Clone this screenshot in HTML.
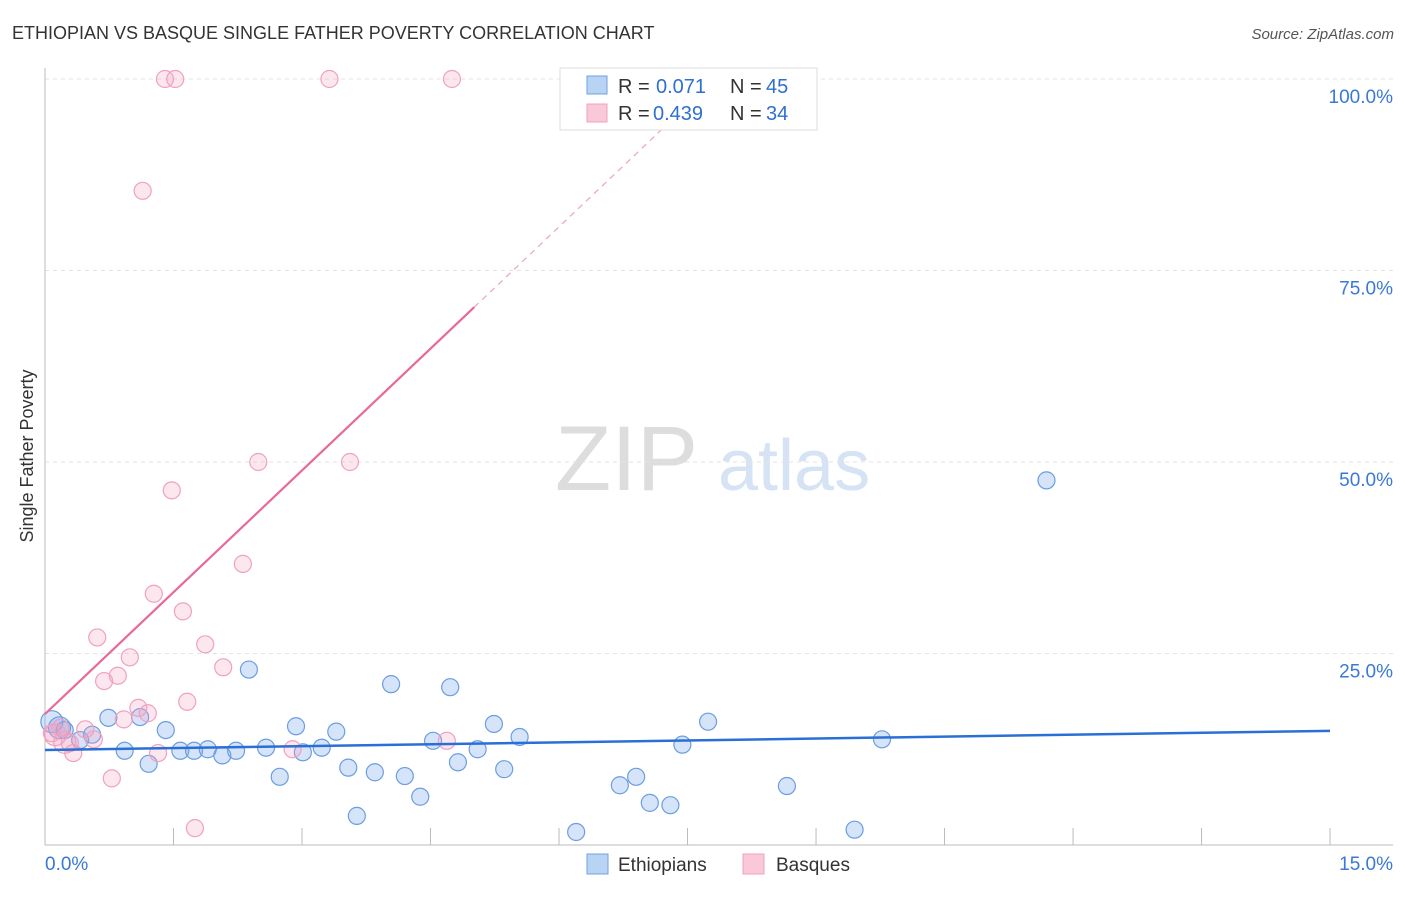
<!DOCTYPE html>
<html><head><meta charset="utf-8"><style>
body{margin:0;background:#fff;font-family:"Liberation Sans",sans-serif;}
svg text{font-family:"Liberation Sans",sans-serif;}
</style></head><body>
<svg id="c" width="1406" height="892" xmlns="http://www.w3.org/2000/svg">
<text x="12" y="39" font-size="18" fill="#333">ETHIOPIAN VS BASQUE SINGLE FATHER POVERTY CORRELATION CHART</text>
<text x="1394" y="39" font-size="15" fill="#555" text-anchor="end" font-style="italic">Source: ZipAtlas.com</text>
<text x="33" y="456" font-size="18" fill="#333" text-anchor="middle" transform="rotate(-90 33 456)">Single Father Poverty</text>
<text x="555" y="490" font-size="92" fill="#ddd" font-family="Liberation Serif">ZIP</text>
<text x="718" y="490" font-size="72" fill="#d5e3f5">atlas</text>
<g id="grid"></g><g id="pts"></g><g id="lines"></g>
<g>
<rect x="560" y="68" width="257" height="62" fill="#fff" stroke="#ddd"/>
<rect x="587" y="76" width="20" height="18" fill="#b9d3f5" stroke="#6fa0e0"/>
<text x="618" y="93" font-size="20" fill="#333">R =</text>
<text x="656" y="93" font-size="20" fill="#2f6fd0">0.071</text>
<text x="730" y="93" font-size="20" fill="#333">N =</text>
<text x="766" y="93" font-size="20" fill="#2f6fd0">45</text>
<rect x="587" y="104" width="20" height="18" fill="#f9c9d8" stroke="#f0a0c0"/>
<text x="618" y="120" font-size="20" fill="#333">R =</text>
<text x="653" y="120" font-size="20" fill="#2f6fd0">0.439</text>
<text x="730" y="120" font-size="20" fill="#333">N =</text>
<text x="766" y="120" font-size="20" fill="#2f6fd0">34</text>
</g>
<g>
<rect x="587" y="854" width="21" height="20" fill="#b9d3f5" stroke="#6fa0e0"/>
<text x="618" y="871" font-size="19" fill="#333">Ethiopians</text>
<rect x="743" y="854" width="21" height="20" fill="#f9c9d8" stroke="#f0a0c0"/>
<text x="776" y="871" font-size="19" fill="#333">Basques</text>
</g>
</svg>
<script>
const xTicks=[0,1.5,3,4.5,6,7.5,9,10.5,12,13.5,15];
const yTicks=[25,50,75,100];
const yTickLabels=["25.0%","50.0%","75.0%","100.0%"];
const ethX=[0.08,0.17,0.23,0.41,0.55,0.74,0.93,1.11,1.21,1.41,1.58,1.74,1.90,2.07,2.23,2.38,2.58,2.74,2.93,3.01,3.23,3.40,3.54,3.85,4.04,4.20,4.38,4.53,4.73,4.82,5.05,5.24,5.36,5.54,3.64,6.20,6.71,6.90,7.06,7.30,7.44,7.74,8.66,9.45,9.77,11.69];
const ethY=[16.1,15.3,15.0,13.7,14.4,16.6,12.3,16.7,10.6,15.0,12.3,12.3,12.5,11.7,12.3,22.9,12.7,8.9,15.5,12.1,12.7,14.8,10.1,9.5,21.0,9.0,6.3,13.6,20.6,10.8,12.5,15.8,9.9,14.1,3.8,1.7,7.8,8.9,5.5,5.2,13.1,16.1,7.7,2.0,13.8,47.6];
const basX=[1.40,1.52,3.32,4.75,1.14,2.49,3.56,1.48,2.31,1.27,1.61,0.61,1.87,0.99,2.08,0.85,0.69,1.66,1.09,1.20,0.92,0.47,0.18,0.08,0.29,0.57,0.33,1.32,2.89,4.69,0.78,1.75,0.12,0.23];
const basY=[100,100,100,100,85.4,50.0,50.0,46.3,36.7,32.8,30.5,27.1,26.2,24.5,23.2,22.1,21.4,18.7,17.9,17.2,16.4,15.1,15.3,14.6,13.3,13.8,12.0,12.0,12.5,13.6,8.7,2.2,14.4,13.4];
const ethTrend=[12.4,14.9];
const basTrend=[17.1,10.6];
const X=v=>45+v*85.67, Y=v=>845-v*7.66;
const NS="http://www.w3.org/2000/svg";
function mk(t,a,p){const e=document.createElementNS(NS,t);for(const k in a)e.setAttribute(k,a[k]);p.appendChild(e);return e;}
const g=document.getElementById('grid');
yTicks.forEach((v,i)=>{
 const l=mk('line',{x1:45,x2:1393,y1:Y(v),y2:Y(v),stroke:'#e3e3e3','stroke-dasharray':'4,4'},g);
 
 
 const t=mk('text',{x:1393,y:Y(v)+24,'font-size':19,fill:'#3a78d8','text-anchor':'end'},g);
 t.textContent=yTickLabels[i];
 
 
});
mk('line',{x1:45,x2:45,y1:68,y2:845,stroke:'#bbb'},g);
mk('line',{x1:45,x2:1393,y1:845,y2:845,stroke:'#bbb'},g);
xTicks.forEach(v=>{const l=mk('line',{x1:X(v),x2:X(v),y1:828,y2:845,stroke:'#bbb'},g);
 
 });
let t=mk('text',{x:45,y:870,'font-size':19,fill:'#3a78d8'},g);t.textContent='0.0%';


t=mk('text',{x:1393,y:870,'font-size':19,fill:'#3a78d8','text-anchor':'end'},g);t.textContent='15.0%';


const p=document.getElementById('pts');
ethX.forEach((x,i)=>{const c=mk('circle',{cx:X(x),cy:Y(ethY[i]),r:i<2?11:8.5,fill:'rgba(120,165,235,0.3)',stroke:'#6a9ee0','stroke-width':1.2},p);
 
 });
basX.forEach((x,i)=>{const c=mk('circle',{cx:X(x),cy:Y(basY[i]),r:i>31?11:8.5,fill:'rgba(245,160,190,0.25)',stroke:'#f0a0c0','stroke-width':1.2},p);
 
 });
const L=document.getElementById('lines');
let l=mk('line',{x1:X(0),y1:Y(ethTrend[0]),x2:X(15),y2:Y(ethTrend[1]),stroke:'#2a6fd6','stroke-width':2.5},L);


const bx=v=>basTrend[0]+basTrend[1]*v;
l=mk('line',{x1:X(0),y1:Y(bx(0)),x2:X(5.01),y2:Y(bx(5.01)),stroke:'#e8689a','stroke-width':2.2},L);


l=mk('line',{x1:X(5.01),y1:Y(bx(5.01)),x2:X(7.5),y2:Y(bx(7.5)),stroke:'#f0a0c0','stroke-width':1.2,'stroke-dasharray':'6,5'},L);


</script>
</body></html>
